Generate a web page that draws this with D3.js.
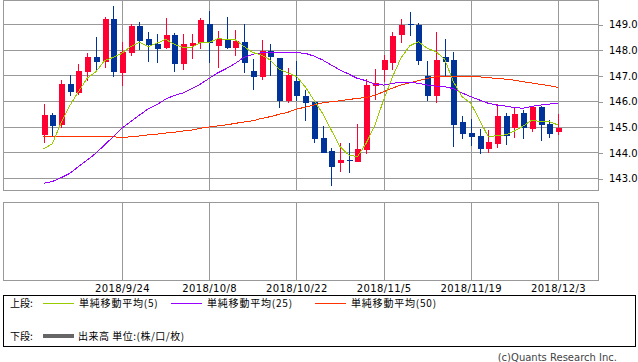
<!DOCTYPE html>
<html>
<head>
<meta charset="utf-8">
<script src="https://d3js.org/d3.v7.min.js"></script>
<style>
body{margin:0;background:#fff;}
text{font-family:"DejaVu Sans",sans-serif;}
.jp{font-family:"Noto Sans CJK JP",sans-serif;}
</style>
</head>
<body>
<script>
// trading days (weekdays) shown on the chart
var dates = ['9/11','9/12','9/13','9/14','9/17','9/18','9/19','9/20','9/21',
             '9/24','9/25','9/26','9/27','9/28','10/1','10/2','10/3','10/4','10/5',
             '10/8','10/9','10/10','10/11','10/12','10/15','10/16','10/17','10/18','10/19',
             '10/22','10/23','10/24','10/25','10/26','10/29','10/30','10/31','11/1','11/2',
             '11/5','11/6','11/7','11/8','11/9','11/12','11/13','11/14','11/15','11/16',
             '11/19','11/20','11/21','11/22','11/23','11/26','11/27','11/28','11/29','11/30',
             '12/3'];

var opens  = [144.69,145.45,145.08,146.66,146.32,147.14,147.71,147.53,149.19,147.10,
              147.88,148.93,148.42,148.23,148.07,148.57,147.45,148.14,148.26,149.00,
              148.15,148.38,148.08,148.30,147.18,146.94,147.95,147.68,146.00,146.78,
              146.19,145.97,144.56,144.05,143.60,143.69,143.62,144.09,146.60,147.21,
              147.49,148.58,148.99,148.96,146.96,146.21,147.71,147.60,145.18,144.75,
              144.64,144.13,144.34,145.42,144.96,145.52,144.92,145.77,145.09,144.80];
var highs  = [145.87,145.52,146.82,147.01,147.44,147.87,148.51,149.28,149.71,148.31,
              149.00,149.08,148.69,148.61,149.23,148.64,148.61,148.61,149.25,149.51,
              148.73,149.27,148.77,149.00,147.65,148.38,148.23,147.68,147.29,147.56,
              146.42,146.04,145.03,144.17,144.35,144.35,145.10,146.87,147.25,147.79,
              148.69,149.19,149.47,149.03,147.56,148.69,148.42,147.91,145.42,145.30,
              144.90,144.87,145.90,145.53,145.74,145.65,145.80,145.81,145.26,145.49];
var lows   = [144.38,144.61,144.95,146.20,146.25,146.77,147.14,147.30,146.95,146.58,
              147.75,147.99,147.52,147.49,148.01,147.14,147.21,147.65,148.04,147.47,
              147.30,148.01,147.77,147.10,146.44,146.82,146.97,145.74,145.93,146.00,
              145.23,144.38,143.96,142.69,143.25,143.18,143.62,143.94,146.04,146.75,
              147.21,148.25,148.53,147.41,146.01,145.93,146.97,144.22,144.52,144.26,
              143.94,143.96,144.17,144.27,144.56,144.52,144.80,144.45,144.57,144.66];
var closes = [145.45,145.02,146.66,146.36,147.18,147.71,147.52,149.19,147.14,147.92,
              148.93,148.35,148.19,148.04,148.57,147.45,148.22,148.26,149.16,148.27,
              148.43,148.08,148.33,147.49,146.95,147.95,147.70,146.01,147.01,146.21,
              145.93,144.52,143.96,143.44,143.69,143.66,144.13,146.62,146.69,147.60,
              148.53,148.97,148.95,147.57,146.21,147.60,147.53,145.08,144.71,144.61,
              144.13,144.40,145.42,144.64,145.49,144.96,145.78,145.07,144.73,144.96];

var ma5  = [144.13,144.33,145.13,145.81,146.36,146.88,147.14,147.57,147.70,147.86,
            148.12,148.29,148.12,148.25,148.40,148.21,148.09,148.09,148.28,148.28,
            148.43,148.40,148.38,148.12,147.89,147.79,147.60,147.24,147.10,146.96,
            146.56,146.04,145.52,144.87,144.22,143.90,143.83,144.35,145.05,146.04,
            146.92,147.68,148.15,148.31,148.05,147.92,147.63,146.75,146.17,145.91,
            145.26,144.61,144.65,144.68,144.83,145.02,145.26,145.19,145.19,145.07];
var ma25 = [142.79,142.86,143.01,143.18,143.44,143.70,143.96,144.29,144.61,144.94,
            145.20,145.45,145.69,145.86,146.07,146.22,146.31,146.48,146.66,146.88,
            147.10,147.27,147.47,147.70,147.82,147.88,147.90,147.90,147.90,147.88,
            147.86,147.75,147.60,147.40,147.21,147.05,146.88,146.79,146.65,146.62,
            146.69,146.73,146.73,146.69,146.62,146.58,146.56,146.48,146.31,146.17,
            146.04,145.91,145.84,145.80,145.74,145.72,145.79,145.84,145.88,145.92];
var ma50 = [144.63,144.62,144.62,144.61,144.62,144.63,144.63,144.63,144.60,144.59,
            144.60,144.64,144.68,144.71,144.75,144.78,144.83,144.87,144.94,144.99,
            145.03,145.07,145.13,145.18,145.23,145.32,145.39,145.48,145.56,145.68,
            145.76,145.84,145.93,145.97,146.01,146.06,146.10,146.14,146.22,146.36,
            146.50,146.62,146.71,146.79,146.88,146.94,146.95,146.96,146.96,146.95,
            146.94,146.91,146.88,146.85,146.81,146.75,146.70,146.65,146.60,146.53];

var priceTicks = [143,144,145,146,147,148,149];
var tickDates  = ['9/24','10/8','10/22','11/5','11/19','12/3'];
var tickLabels = ['2018/9/24','2018/10/8','2018/10/22','2018/11/5','2018/11/19','2018/12/3'];

var upColor = "#ff0033", downColor = "#003399", gridColor = "#999";

var svg = d3.select("body").append("svg").attr("width",638).attr("height",362);

var x = d3.scalePoint().domain(dates).range([43.5,558]);
var y = d3.scaleLinear().domain([143,149]).range([178,24]);

function px(v){ return Math.round(v)+0.5; }

// horizontal grid (runs a few px past the frame)
svg.append("g").selectAll("line").data(priceTicks).join("line")
   .attr("x1",3).attr("x2",598)
   .attr("y1",function(d){return px(y(d));}).attr("y2",function(d){return px(y(d));})
   .attr("stroke",gridColor).attr("shape-rendering","crispEdges");

// vertical grid, upper and lower panel
[[0,190],[202,280]].forEach(function(r){
  svg.append("g").selectAll("line").data(tickDates).join("line")
     .attr("x1",function(d){return px(x(d));}).attr("x2",function(d){return px(x(d));})
     .attr("y1",r[0]).attr("y2",r[1])
     .attr("stroke",gridColor).attr("shape-rendering","crispEdges");
});

// frames
svg.append("rect").attr("x",3.5).attr("y",0.5).attr("width",595).attr("height",190)
   .attr("fill","none").attr("stroke",gridColor);
svg.append("rect").attr("x",3.5).attr("y",202.5).attr("width",595).attr("height",78)
   .attr("fill","none").attr("stroke",gridColor);

// price axis on the right
var yAxis = d3.axisRight(y).tickValues(priceTicks).tickSize(5).tickPadding(6);
var yG = svg.append("g").attr("transform","translate(598,0.5)").call(yAxis);
yG.select(".domain").remove();
yG.selectAll("line").attr("stroke",gridColor).attr("shape-rendering","crispEdges");
yG.selectAll("text").attr("font-size",10).attr("font-family","DejaVu Sans").attr("fill","#000");

// date axis under the lower panel
var xAxis = d3.axisBottom(x).tickValues(tickDates).tickSize(0).tickPadding(5)
              .tickFormat(function(d,i){return tickLabels[i];});
var xG = svg.append("g").attr("transform","translate(0,280)").call(xAxis);
xG.select(".domain").remove();
xG.selectAll("text").attr("font-size",10).attr("letter-spacing","0.4px")
   .attr("font-family","DejaVu Sans").attr("fill","#000");

// candles
var idx = d3.range(dates.length);
var candles = svg.append("g");
candles.selectAll("line").data(idx).join("line")
   .attr("x1",function(i){return px(x(dates[i]));}).attr("x2",function(i){return px(x(dates[i]));})
   .attr("y1",function(i){return y(highs[i]);}).attr("y2",function(i){return y(lows[i]);})
   .attr("stroke",function(i){return closes[i]>=opens[i]?upColor:downColor;})
   .attr("shape-rendering","crispEdges");
candles.selectAll("rect").data(idx).join("rect")
   .attr("x",function(i){return Math.round(x(dates[i]))-2;})
   .attr("width",6)
   .attr("y",function(i){return y(Math.max(opens[i],closes[i]));})
   .attr("height",function(i){return Math.max(1,Math.abs(y(opens[i])-y(closes[i])));})
   .attr("fill",function(i){return closes[i]>=opens[i]?upColor:downColor;})
   .attr("shape-rendering","crispEdges");

// moving averages
var maLine = function(arr){
  return d3.line().x(function(d,i){return x(dates[i]);}).y(function(d){return y(d);})(arr);
};
var maSeries = [{v:ma50,c:"#ff3300"},{v:ma25,c:"#9900ff"},{v:ma5,c:"#99cc00"}];
maSeries.forEach(function(s){
  svg.append("path").attr("d",maLine(s.v)).attr("fill","none")
     .attr("stroke",s.c).attr("stroke-width",1).attr("shape-rendering","crispEdges");
});

// legend
svg.append("rect").attr("x",3.5).attr("y",295.5).attr("width",632).attr("height",51)
   .attr("fill","none").attr("stroke","#000");
var leg = svg.append("g").attr("class","jp").attr("font-size",10);
leg.append("text").attr("class","jp").attr("x",10).attr("y",303).attr("dy","0.35em").text("上段:");
leg.append("text").attr("class","jp").attr("x",10).attr("y",336).attr("dy","0.35em").text("下段:");
var legItems = [{x:43,c:"#99cc00",t:"単純移動平均(5)"},
                {x:171,c:"#9900ff",t:"単純移動平均(25)"},
                {x:315,c:"#ff3300",t:"単純移動平均(50)"}];
legItems.forEach(function(d){
  leg.append("line").attr("x1",d.x).attr("x2",d.x+31).attr("y1",303.5).attr("y2",303.5)
     .attr("stroke",d.c).attr("shape-rendering","crispEdges");
  leg.append("text").attr("class","jp").attr("x",d.x+36).attr("y",303).attr("dy","0.35em")
     .attr("letter-spacing","0.8px").text(d.t);
});
leg.append("line").attr("x1",43).attr("x2",74).attr("y1",336).attr("y2",336)
   .attr("stroke","#666").attr("stroke-width",4);
leg.append("text").attr("class","jp").attr("x",78).attr("y",336).attr("dy","0.35em")
   .attr("letter-spacing","0.5px").text("出来高 単位:(株/口/枚)");

svg.append("text").attr("x",617).attr("y",357).attr("dy","0.35em").attr("text-anchor","end")
   .attr("font-size",10).attr("fill","#444").text("(c)Quants Research Inc.");
</script>
</body>
</html>
